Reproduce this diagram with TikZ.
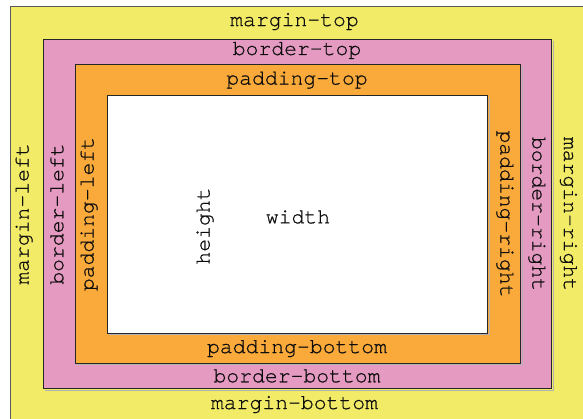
\documentclass[tikz,border=0pt]{standalone}
\usepackage{fontspec}
\setmonofont[FakeBold=0.6]{TeX Gyre Cursor}
\definecolor{marginc}{RGB}{242,235,104}
\definecolor{borderc}{RGB}{228,154,193}
\definecolor{paddingc}{RGB}{250,170,59}
\begin{document}
\begin{tikzpicture}[x=1bp,y=-1bp,
  boxrect/.style={draw=black!85,line width=0.9bp},
  lbl/.style={font=\fontsize{21.5}{24}\selectfont\ttfamily,text=black!95,inner sep=0pt,anchor=center},
  up/.style={rotate=90},
  down/.style={rotate=-90}]
\useasboundingbox (0,0) rectangle (583,418);
\begin{scope}
\clip (0,0) rectangle (583,418);
\fill[white] (0,0) rectangle (583,418);
\draw[boxrect,draw=black!65,fill=marginc] (10,6) rectangle (585,422);
\draw[black!30,line width=0.8bp] (45,390) -- (553,390) -- (553,41);
\draw[boxrect,fill=borderc] (43.7,39.3) rectangle (551.7,388.3);
\draw[black!30,line width=0.8bp] (77,364.5) -- (522,364.5) -- (522,66);
\draw[boxrect,fill=paddingc] (75.7,64) rectangle (520.3,363);
\draw[black!30,line width=0.8bp] (109,334.5) -- (489,334.5) -- (489,97);
\draw[boxrect,fill=white] (107.7,95) rectangle (487.7,333);
\end{scope}
\node[lbl] (mt) at (294.5,21.5) {margin-top};
\node[lbl] (mb) at (294.5,404.5) {margin-bottom};
\node[lbl,up] (ml) at (24,214) {margin-left};
\node[lbl,down] (mr) at (568.5,214) {margin-right};
\node[lbl] (bt) at (297,50.5) {border-top};
\node[lbl] (bb) at (297,376) {border-bottom};
\node[lbl,up] (bl) at (57,214) {border-left};
\node[lbl,down] (br) at (537,214) {border-right};
\node[lbl] (pt) at (297,80) {padding-top};
\node[lbl] (pb) at (297,348.5) {padding-bottom};
\node[lbl,up] (pl) at (89,214) {padding-left};
\node[lbl,down] (pr) at (505,214) {padding-right};
\node[lbl] (w) at (298,217) {width};
\node[lbl,up] (h) at (205,226) {height};
\end{tikzpicture}
\end{document}
